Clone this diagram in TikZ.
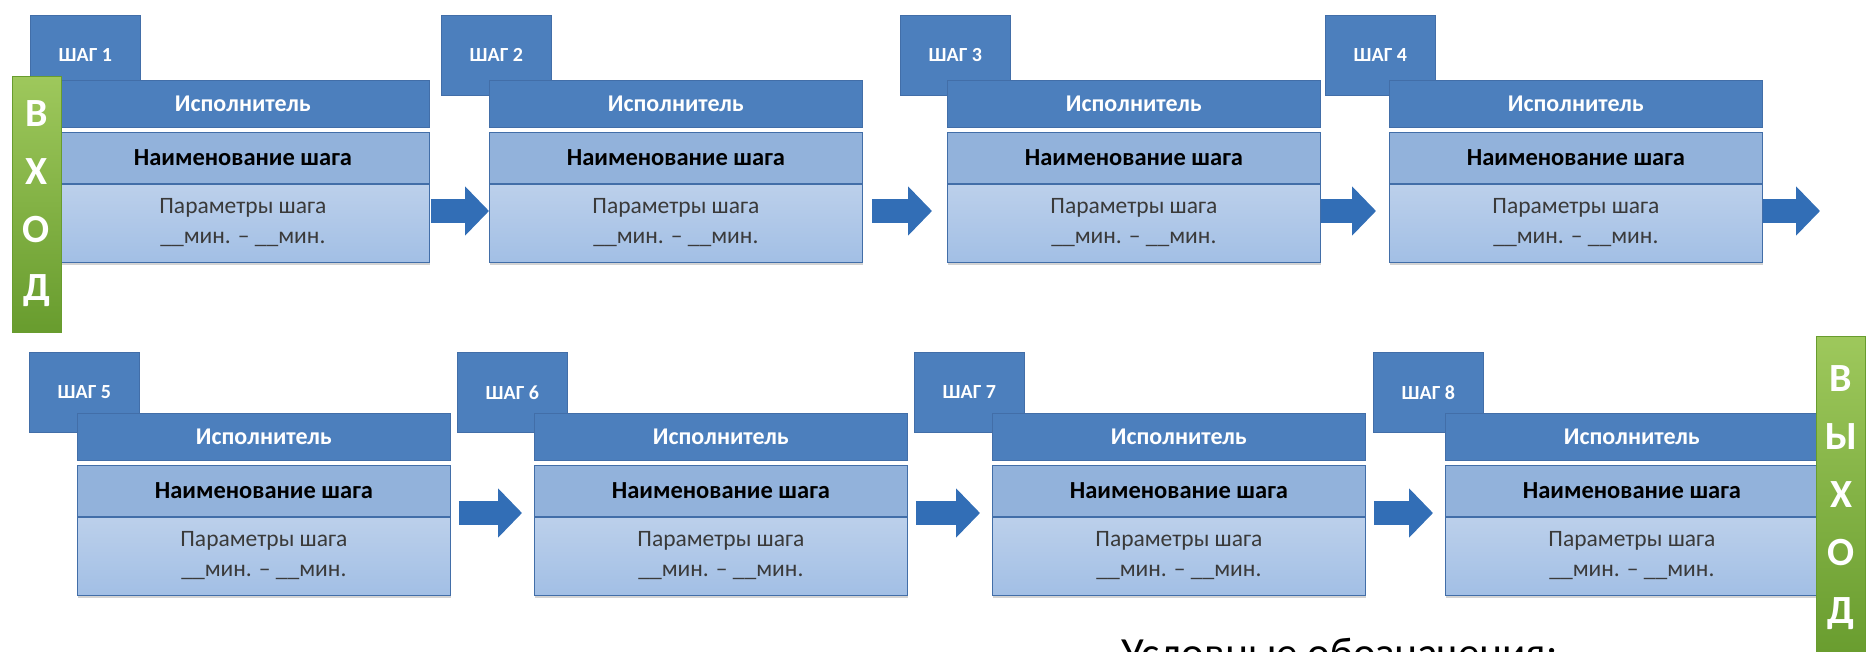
\documentclass[tikz,border=0pt]{standalone}
\usepackage{fontspec}
\setmainfont{Carlito}
\usepackage{tikz}
\usetikzlibrary{arrows.meta,positioning,shadows}

\definecolor{hdblue}{RGB}{76,127,189}
\definecolor{edgeblue}{RGB}{66,110,168}
\definecolor{nmblue}{RGB}{146,178,219}
\definecolor{partop}{RGB}{188,208,235}
\definecolor{parbot}{RGB}{162,191,229}
\definecolor{arrblue}{RGB}{50,110,182}
\definecolor{gtop}{RGB}{158,200,92}
\definecolor{gbot}{RGB}{104,156,46}
\definecolor{partext}{RGB}{58,58,58}

\begin{document}
\begin{tikzpicture}[
  x=1pt, y=-1pt,
  tab/.style={
    rectangle, fill=hdblue, draw=edgeblue, line width=0.8pt,
    minimum width=110, minimum height=80, inner sep=0pt, anchor=north west,
    text=white, font=\fontsize{20}{23}\selectfont\bfseries
  },
  hdr/.style={
    rectangle, fill=hdblue, draw=edgeblue, line width=0.8pt,
    minimum width=373, minimum height=47, inner sep=0pt, anchor=north west,
    text=white, font=\fontsize{24}{26}\selectfont\bfseries
  },
  nm/.style={
    rectangle, fill=nmblue, draw=edgeblue, line width=0.8pt,
    minimum width=373, minimum height=51, inner sep=0pt,
    text=black, font=\fontsize{24.5}{27}\selectfont\bfseries
  },
  par/.style={
    rectangle, top color=partop, bottom color=parbot, draw=edgeblue,
    line width=0.8pt, minimum width=373, minimum height=78, inner sep=0pt,
    align=center, text=partext, font=\fontsize{23.5}{30}\selectfont,
    drop shadow={shadow xshift=1pt, shadow yshift=-3pt, opacity=0.35}
  },
  gate/.style={
    rectangle, top color=gtop, bottom color=gbot, draw=gbot, line width=0.8pt,
    minimum width=49, inner sep=0pt, align=center,
    text=white, font=\fontsize{40}{58}\selectfont\bfseries
  },
  flow/.style={
    -{Triangle[length=24pt,width=48pt]}, line width=24pt, color=arrblue
  }
]
\useasboundingbox (0,0) rectangle (1868,651);
\clip (0,0) rectangle (1868,651);

% steps: number / box left / box top / tab left / tab top
\foreach \i/\bx/\by/\tx/\ty in {1/56/80/30/15, 2/489/80/441/15,
    3/947/80/900/15, 4/1389/80/1325/15, 5/77/413/29/352,
    6/534/413/457/352, 7/992/413/914/352, 8/1445/413/1373/352} {
  \node[tab] (t\i) at (\tx,\ty) {ШАГ \i};
  \node[hdr] (h\i) at (\bx,\by) {Исполнитель};
  \node[nm, below=4pt of h\i] (n\i) {Наименование шага};
  \node[par, below=0pt of n\i] (p\i) {Параметры шага\\\_\_мин. – \_\_мин.};
}

% arrow levels
\coordinate (r1) at (0,211);
\coordinate (r2) at (0,513);
\coordinate (nx) at (1820,211);

% arrows between steps
\foreach \a/\b/\s/\e in {1/2/1/0, 2/3/9/15, 3/4/0/13} {
  \draw[flow, shorten <=\s, shorten >=\e] (p\a.east |- r1) -- (p\b.west |- r1);
}
\draw[flow] (p4.east |- r1) -- (nx);
\foreach \a/\b in {5/6, 6/7, 7/8} {
  \draw[flow, shorten <=8, shorten >=12] (p\a.east |- r2) -- (p\b.west |- r2);
}

% entry and exit bars
\node[gate, minimum height=256] (in) at (36.5,204) {В\\Х\\О\\Д};
\node[gate, minimum height=324] (out) at (1841,498) {В\\Ы\\Х\\О\\Д};

% legend title, cut by the lower edge
\node[anchor=base west, font=\fontsize{43}{50}\selectfont] (legend)
  at (1118,667) {Условные обозначения:};

\end{tikzpicture}
\end{document}
